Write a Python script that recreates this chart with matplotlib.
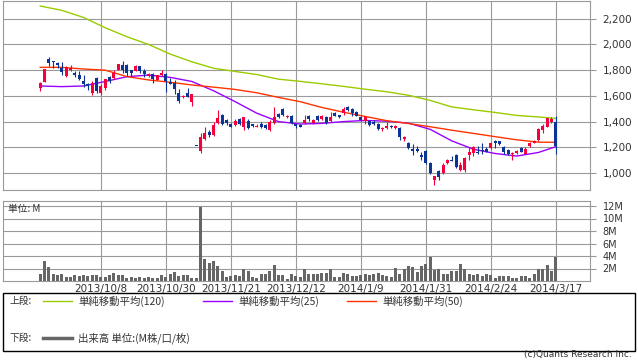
import matplotlib
matplotlib.use("Agg")
import matplotlib.pyplot as plt
import numpy as np
from matplotlib.lines import Line2D
from matplotlib.patches import Rectangle

# daily candles (price), oldest first
opens = [1665, 1708, 1887, 1870, 1856, 1817, 1755, 1800, 1778, 1762,
         1716, 1692, 1625, 1739, 1625, 1661, 1747, 1739, 1801, 1840,
         1840, 1801, 1793, 1832, 1793, 1755, 1770, 1723, 1762, 1770,
         1708, 1700, 1622, 1590, 1620, 1552, 1210, 1171, 1265, 1318,
         1295, 1389, 1451, 1412, 1381, 1373, 1420, 1358, 1404, 1381,
         1358, 1381, 1373, 1334, 1389, 1459, 1498, 1436, 1443, 1381,
         1375, 1389, 1444, 1389, 1444, 1420, 1436, 1405, 1465, 1451,
         1467, 1510, 1498, 1475, 1436, 1405, 1405, 1397, 1381, 1342,
         1350, 1365, 1350, 1350, 1265, 1233, 1187, 1190, 1140, 1171,
         1078, 946, 1016, 1000, 1078, 1101, 1140, 1023, 1023, 1140,
         1155, 1160, 1175, 1190, 1194, 1248, 1248, 1202, 1179, 1148,
         1155, 1194, 1148, 1210, 1236, 1257, 1334, 1358, 1397, 1397]
closes = [1700, 1809, 1856, 1860, 1840, 1786, 1825, 1815, 1762, 1731,
          1692, 1677, 1700, 1640, 1677, 1731, 1716, 1778, 1848, 1801,
          1778, 1778, 1832, 1793, 1770, 1770, 1731, 1762, 1778, 1716,
          1692, 1653, 1560, 1600, 1594, 1614, 1210, 1280, 1311, 1295,
          1373, 1428, 1381, 1389, 1358, 1404, 1381, 1436, 1350, 1365,
          1365, 1358, 1350, 1397, 1436, 1436, 1451, 1444, 1389, 1365,
          1360, 1412, 1420, 1412, 1412, 1440, 1389, 1436, 1444, 1436,
          1498, 1490, 1467, 1444, 1410, 1436, 1373, 1381, 1342, 1350,
          1365, 1355, 1365, 1280, 1280, 1194, 1170, 1175, 1124, 1078,
          1000, 977, 970, 1062, 1101, 1093, 1047, 1062, 1117, 1163,
          1202, 1155, 1170, 1165, 1233, 1236, 1225, 1163, 1148, 1155,
          1171, 1163, 1187, 1233, 1251, 1342, 1365, 1428, 1420, 1210]
highs = [1705, 1812, 1905, 1872, 1865, 1860, 1830, 1840, 1790, 1790,
         1762, 1700, 1716, 1745, 1692, 1735, 1755, 1800, 1850, 1870,
         1845, 1805, 1840, 1835, 1812, 1778, 1775, 1766, 1800, 1775,
         1740, 1725, 1650, 1605, 1660, 1614, 1210, 1311, 1358, 1335,
         1397, 1490, 1460, 1420, 1390, 1420, 1430, 1436, 1420, 1385,
         1380, 1398, 1378, 1412, 1513, 1465, 1505, 1455, 1448, 1385,
         1380, 1451, 1455, 1420, 1450, 1455, 1440, 1475, 1475, 1455,
         1510, 1520, 1505, 1480, 1440, 1440, 1410, 1410, 1390, 1355,
         1400, 1370, 1370, 1355, 1285, 1240, 1225, 1210, 1165, 1180,
         1085, 980, 1020, 1080, 1110, 1130, 1150, 1085, 1125, 1200,
         1210, 1210, 1235, 1200, 1245, 1260, 1250, 1210, 1185, 1160,
         1180, 1200, 1205, 1245, 1255, 1350, 1380, 1430, 1435, 1445]
lows = [1640, 1705, 1830, 1817, 1817, 1760, 1750, 1795, 1747, 1725,
        1670, 1646, 1610, 1620, 1610, 1645, 1700, 1735, 1798, 1778,
        1755, 1755, 1790, 1778, 1750, 1745, 1700, 1720, 1758, 1630,
        1690, 1615, 1545, 1580, 1590, 1521, 1210, 1156, 1260, 1280,
        1290, 1385, 1370, 1370, 1355, 1365, 1370, 1335, 1340, 1358,
        1355, 1350, 1345, 1330, 1385, 1430, 1440, 1428, 1385, 1350,
        1358, 1385, 1405, 1380, 1405, 1415, 1385, 1395, 1440, 1430,
        1455, 1480, 1445, 1440, 1405, 1385, 1365, 1375, 1335, 1330,
        1345, 1350, 1340, 1255, 1250, 1190, 1140, 1165, 1103, 1070,
        995, 910, 946, 995, 1070, 1090, 1040, 1015, 1010, 1100,
        1130, 1150, 1150, 1165, 1185, 1195, 1220, 1150, 1140, 1103,
        1145, 1160, 1145, 1200, 1230, 1250, 1315, 1355, 1390, 1150]

# volume in millions
volumes = [1.2, 3.2, 2.3, 1.1, 0.9, 1.2, 0.65, 0.65, 0.9, 0.75,
           0.9, 0.75, 0.9, 0.9, 0.65, 0.65, 0.9, 1.35, 0.9, 0.9,
           0.5, 0.6, 0.5, 0.65, 0.55, 0.6, 0.5, 0.5, 1.0, 0.65,
           1.2, 1.5, 0.8, 1.0, 1.0, 0.5, 0.5, 11.9, 3.5, 2.9,
           3.2, 2.4, 1.56, 0.65, 0.8, 0.9, 0.8, 2.0, 1.56, 0.65,
           0.5, 1.2, 1.1, 1.56, 2.5, 1.0, 0.9, 0.4, 1.2, 0.8,
           0.65, 1.9, 1.1, 1.1, 1.2, 1.3, 1.3, 2.0, 0.65, 0.65,
           1.3, 1.1, 0.76, 0.76, 0.92, 1.2, 0.92, 1.1, 1.3, 0.92,
           0.76, 0.65, 2.1, 1.1, 1.9, 2.4, 2.3, 1.4, 2.4, 2.7,
           3.9, 1.7, 1.9, 1.2, 1.2, 1.6, 1.6, 2.8, 1.9, 1.1,
           0.92, 1.2, 0.76, 1.2, 0.92, 0.5, 0.76, 0.76, 0.76, 0.5,
           0.5, 0.76, 0.76, 0.5, 1.1, 1.9, 1.9, 2.5, 1.56, 3.9]

# moving averages, read every 5 sessions
ma_idx = [0, 5, 10, 15, 20, 25, 30, 35, 40, 45, 50, 55, 60,
          65, 70, 75, 80, 85, 90, 95, 100, 105, 110, 115, 119]
ma120 = [2299, 2265, 2210, 2130, 2060, 2000, 1925, 1865, 1815, 1790, 1766, 1730, 1713,
         1694, 1674, 1652, 1632, 1605, 1565, 1514, 1492, 1471, 1448, 1436, 1425]
ma50 = [1822, 1822, 1809, 1800, 1750, 1724, 1706, 1685, 1668, 1650, 1624, 1588, 1555,
        1510, 1473, 1440, 1407, 1385, 1360, 1333, 1308, 1283, 1258, 1240, 1239]
ma25 = [1677, 1672, 1677, 1712, 1749, 1762, 1744, 1712, 1640, 1555, 1465, 1400, 1381,
        1386, 1400, 1409, 1403, 1388, 1340, 1250, 1185, 1152, 1132, 1160, 1205]

date_idx = [14, 29, 44, 59, 74, 89, 104, 119]
date_labels = ["2013/10/8", "2013/10/30", "2013/11/21", "2013/12/12",
               "2014/1/9", "2014/1/31", "2014/2/24", "2014/3/17"]
price_ticks = [1000, 1200, 1400, 1600, 1800, 2000, 2200]
vol_ticks = [2, 4, 6, 8, 10, 12]

RED = "#f5003c"
BLUE = "#0a3596"
GRID = "#9a9a9a"
TXT = "#333333"
CJK = ["Noto Sans CJK JP", "DejaVu Sans"]

W, H = 638, 362
fig = plt.figure(figsize=(W / 100, H / 100), dpi=100)

ax = fig.add_axes([3 / W, 1 - 190 / H, 587 / W, 189 / H])
axv = fig.add_axes([3 / W, 1 - 281 / H, 587 / W, 80 / H])

o = np.array(opens, float)
c = np.array(closes, float)
x = np.arange(len(o))
cols = np.where(c > o, RED, BLUE)

# moving averages under the candles
ax.plot(ma_idx, ma120, color="#99cc00", lw=1, zorder=2)
ax.plot(ma_idx, ma25, color="#9900ff", lw=1, zorder=2)
ax.plot(ma_idx, ma50, color="#ff3300", lw=1, zorder=2)

ax.vlines(x, lows, highs, colors=cols, lw=0.8, zorder=3)
body = np.maximum(np.abs(c - o), 6)
ax.bar(x, body, bottom=np.minimum(o, c), width=0.72, color=cols, lw=0, zorder=3)

xmin, xmax = -8.6, 126.9
for a in (ax, axv):
    a.set_xlim(xmin, xmax)
    a.set_xticks(date_idx)
    a.grid(True, color=GRID, lw=0.8)
    a.set_axisbelow(True)
    for s in a.spines.values():
        s.set_color(GRID)
        s.set_linewidth(0.8)
    a.yaxis.tick_right()
    a.tick_params(axis="y", length=4, color=GRID, labelcolor=TXT, pad=5)
    a.tick_params(axis="x", length=0)

ax.set_ylim(868, 2338)
ax.set_yticks(price_ticks)
ax.set_yticklabels([f"{v:,}" for v in price_ticks], fontsize=7.5)
ax.tick_params(axis="x", labelbottom=False)

axv.bar(x, volumes, width=0.7, color="#666666", lw=0, zorder=3)
axv.set_ylim(0, 12.8)
axv.set_yticks(vol_ticks)
axv.set_yticklabels([f"{v}M" for v in vol_ticks], fontsize=7)
axv.set_xticklabels(date_labels, fontsize=7.5, color=TXT)
axv.tick_params(axis="x", pad=2)
fig.text(8 / W, 1 - 209 / H, "単位: M", family=CJK, fontsize=7, color=TXT, va="center")

# legend box at the bottom
fig.add_artist(Rectangle((3 / W, 1 - 351 / H), 632 / W, 58 / H, transform=fig.transFigure,
                         fill=False, edgecolor="black", lw=1))
y1 = 1 - 301 / H
y2 = 1 - 338 / H
fig.text(10 / W, y1, "上段:", family=CJK, fontsize=7, color=TXT, va="center")
fig.text(10 / W, y2, "下段:", family=CJK, fontsize=7, color=TXT, va="center")
items = [(43, "#99cc00", "単純移動平均(120)"),
         (203, "#9900ff", "単純移動平均(25)"),
         (347, "#ff3300", "単純移動平均(50)")]
for x0, col, lab in items:
    fig.add_artist(Line2D([x0 / W, (x0 + 29) / W], [y1, y1], color=col, lw=1,
                          transform=fig.transFigure))
    fig.text((x0 + 35) / W, y1, lab, family=CJK, fontsize=7.5, color=TXT, va="center")
fig.add_artist(Line2D([43 / W, 72 / W], [y2, y2], color="#666666", lw=2.5,
                      transform=fig.transFigure))
fig.text(78 / W, y2, "出来高 単位:(M株/口/枚)", family=CJK, fontsize=7.5, color=TXT, va="center")

fig.text(632 / W, 1 - 354 / H, "(c)Quants Research Inc.", fontsize=6.5, color=TXT,
         ha="right", va="center")

fig.savefig("out.png", dpi=100)
